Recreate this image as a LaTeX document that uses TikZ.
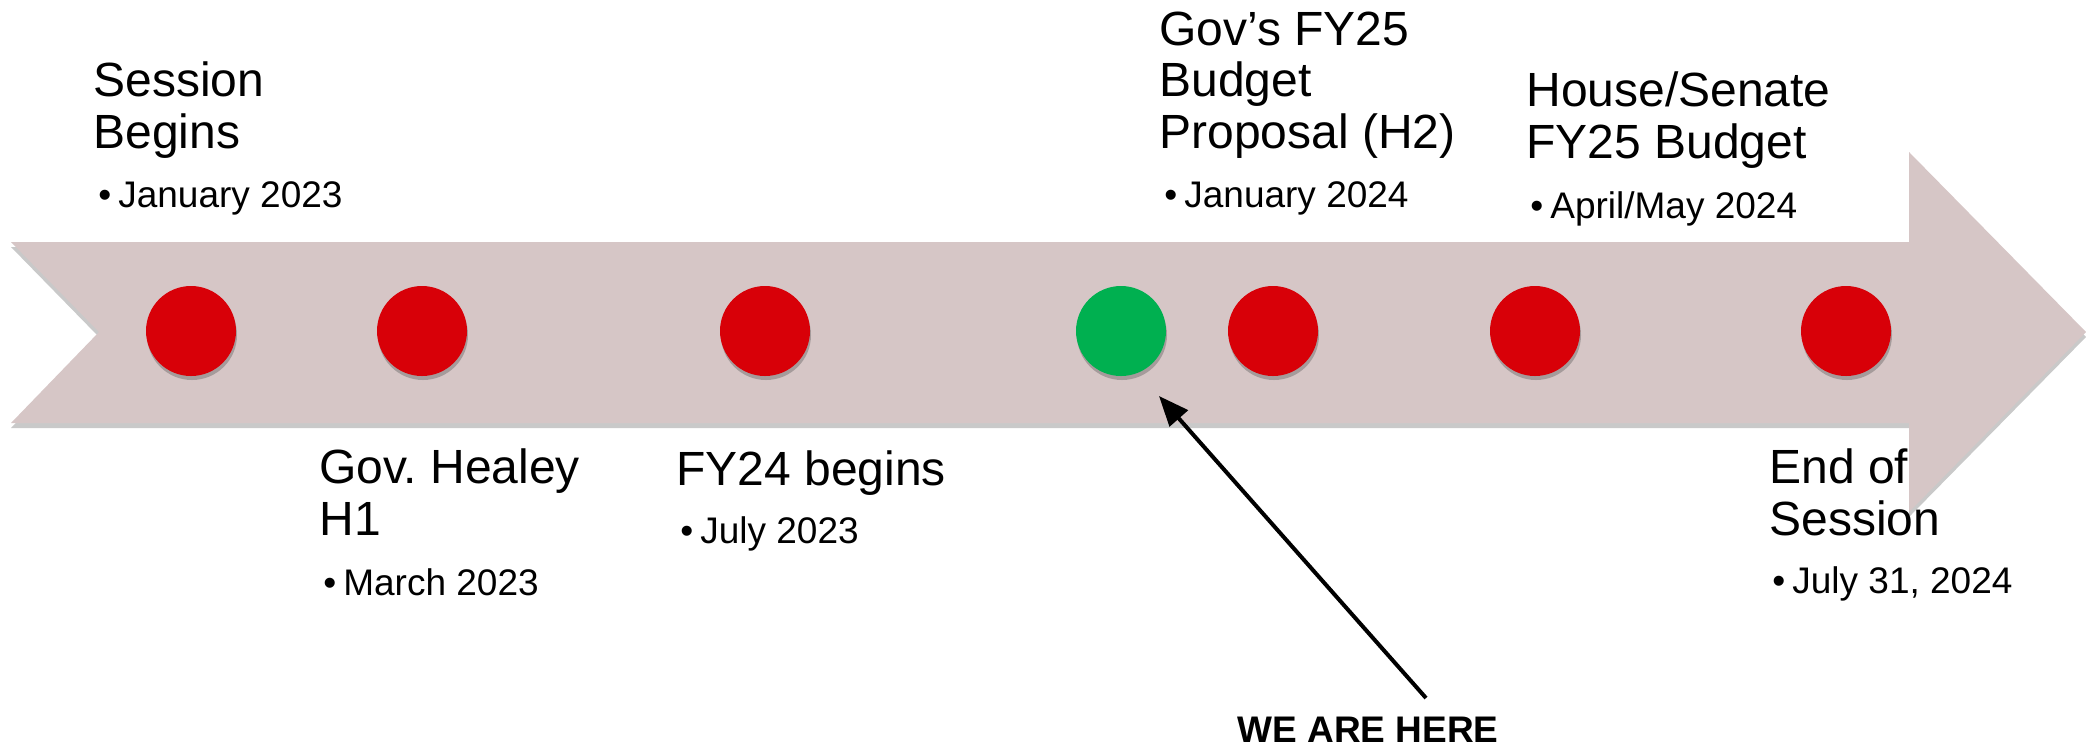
\documentclass[tikz,border=0pt]{standalone}
\usepackage{fontspec}
\setmainfont{Liberation Sans}
\usetikzlibrary{arrows.meta}
\usetikzlibrary{shadows}

\definecolor{bandgray}{RGB}{214,198,198}
\definecolor{dotred}{RGB}{216,0,8}
\definecolor{dotgreen}{RGB}{0,176,80}

\begin{document}
\begin{tikzpicture}[x=0.5pt,y=-0.5pt,
	title/.style={anchor=base west,inner sep=0pt,align=left,font=\fontsize{24}{25.75}\selectfont},
	date/.style={anchor=base west,inner sep=0pt,font=\fontsize{18.5}{20}\selectfont},
	event/.style={circle,minimum size=45pt,inner sep=0pt,
		drop shadow={shadow xshift=0.5pt,shadow yshift=-2pt,opacity=0.35,fill=black!70}},
	pointer/.style={line width=2pt,-{Triangle[length=15pt,width=12pt]}}]
				\def\ymid{331}       %height of the dots on the band.
				\def\bb{\hspace{3.5pt}}  %gap after the bullet.
				
				\useasboundingbox (0,0) rectangle (2086,746);
				
				% Labels above the band (placed at the baseline of their last line).
				\node[title] (sess) at (93,148) {Session\\Begins};
				\node[date] (sessd) at (98,207) {•\bb January 2023};
				\node[title] (gov) at (1159,148) {Gov’s FY25\\Budget\\Proposal (H2)};
				\node[date] (govd) at (1164,207) {•\bb January 2024};
				\node[title] (hs) at (1526,158) {House/Senate\\FY25 Budget};
				\node[date] (hsd) at (1530,218) {•\bb April/May 2024};
				
				% Labels below the band.
				\node[title] (hly) at (319,535) {Gov.\ Healey\\H1};
				\node[date] (hlyd) at (323,595) {•\bb March 2023};
				\node[title] (fy) at (676,485) {FY24 begins};
				\node[date] (fyd) at (680,543) {•\bb July 2023};
				\node[title] (eos) at (1769,535) {End of\\Session};
				\node[date] (eosd) at (1772,593) {•\bb July 31, 2024};
				
				% The band with its arrow head.
				\fill[bandgray,drop shadow={shadow xshift=0pt,shadow yshift=-2.5pt,opacity=0.3,fill=black!70}]
					(11,242) -- (1909,242) -- (1909,152) -- (2086,332) -- (1909,512) -- (1909,423) -- (11,423) -- (99,332) -- cycle;
				
				% Dots.
				\node[event,fill=dotred] (jan23) at (191,\ymid) {};
				\node[event,fill=dotred] (mar23) at (422,\ymid) {};
				\node[event,fill=dotred] (jul23) at (765,\ymid) {};
				\node[event,fill=dotgreen] (now) at (1121,\ymid) {};
				\node[event,fill=dotred] (jan24) at (1273,\ymid) {};
				\node[event,fill=dotred] (may24) at (1535,\ymid) {};
				\node[event,fill=dotred] (jul24) at (1846,\ymid) {};
				
				% We are here.
				\node[anchor=base,inner sep=0pt,font=\fontsize{18.5}{20}\selectfont\bfseries] (here) at (1368,742) {WE ARE HERE};
				\coordinate (tail) at (1426,698);
				\coordinate (tip) at (1159,396);
				\draw[pointer] (tail) -- (tip);
				
\end{tikzpicture}
\end{document}
